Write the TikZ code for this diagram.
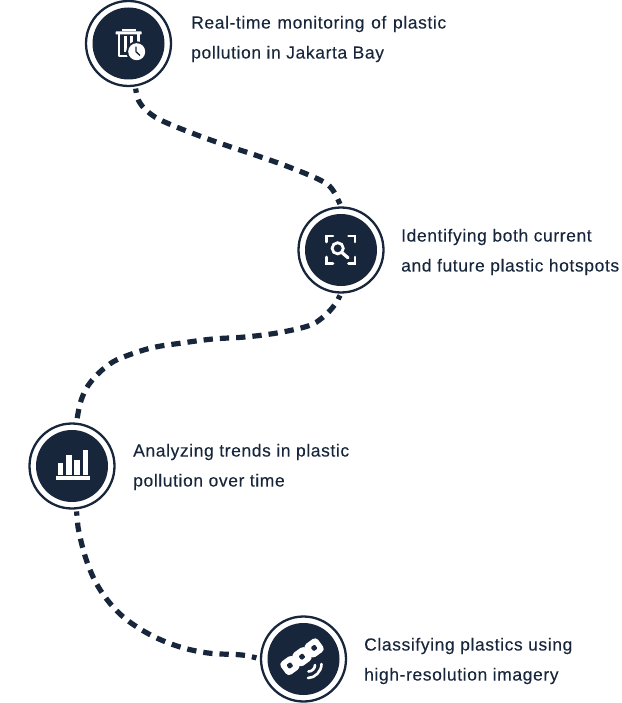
\documentclass[tikz,border=0pt]{standalone}
\usepackage{fontspec}
\setmainfont[LetterSpace=3.4,FakeBold=0.15]{Liberation Sans}
\definecolor{navy}{HTML}{17263B}
\tikzset{
  ring/.style={circle,draw=navy,line width=2.3pt,fill=white,minimum size=85pt,inner sep=0pt},
  disk/.style={circle,fill=navy,minimum size=72pt,inner sep=0pt},
  conn/.style={draw=navy,line width=5.2pt,dash pattern=on 9.3pt off 7pt,dash phase=5pt},
  label/.style={anchor=west,align=left,text=navy,inner sep=0pt,font=\fontsize{17.5}{30}\selectfont},
  iconline/.style={draw=white,line width=2.6pt,fill=none}
}
\begin{document}
\begin{tikzpicture}[x=1pt,y=-1pt]
\useasboundingbox (0,0) rectangle (621,703);
\node[ring] (c1) at (128.5,43.5) {};
\node[ring] (c2) at (341,250) {};
\node[ring] (c3) at (72,466) {};
\node[ring] (c4) at (303.5,659) {};
\node[disk] (d1) at (c1) {};
\node[disk] (d2) at (c2) {};
\node[disk] (d3) at (c3) {};
\node[disk] (d4) at (c4) {};
\draw[conn,shorten <=2pt,shorten >=3pt] plot[smooth,tension=.6] coordinates {(c1.-81) (140,103) (152,115) (167,123) (197,135) (228,146) (258,156) (289,167) (320,180) (332,189) (c2.90)};
\draw[conn,shorten <=2pt,shorten >=3pt] plot[smooth,tension=.6] coordinates {(c2.-90) (333,307) (322,318) (308,326) (277,333) (245,337) (213,339) (182,343) (151,348) (121,358) (107,366) (95,377) (86,389) (80,404) (c3.84)};
\draw[conn,shorten <=2pt,shorten >=5pt] plot[smooth,tension=.6] coordinates {(c3.-84) (78,527) (86,559) (99,588) (120,614) (147,633) (177,646) (208,653) (242,655) (c4.180)};
\fill[white] (122,29) rectangle (136,31.5);
\fill[white,rounded corners=.5pt] (115.7,31.5) rectangle (141.7,34.5);
\draw[iconline,line join=round] (119,34) -- (119,56) -- (133,56);
\fill[white] (124,36.5) rectangle (126.8,52);
\fill[white] (130,36.5) rectangle (133,47);
\draw[iconline] (138.5,34) -- (138.5,42);
\fill[navy] (136.7,51.7) circle[radius=10.5];
\fill[white] (136.7,51.7) circle[radius=8.5];
\draw[navy,line width=1.3pt] (136,46.7) -- (136,51.7) -- (140,55.5);
\draw[iconline,line cap=round] (326.5,242) -- (326.5,236) -- (333,236);
\draw[iconline,line cap=round] (348.5,236) -- (355,236) -- (355,242);
\draw[iconline,line cap=round] (326.5,257) -- (326.5,263.5) -- (333,263.5);
\draw[iconline,line cap=round] (348.5,263.5) -- (355,263.5) -- (355,257);
\draw[iconline,line width=2.8pt] (337.7,248.3) circle[radius=5.6];
\draw[iconline,line width=3.2pt,line cap=round] (342,252.6) -- (348,257.8);
\fill[white] (56,476.3) rectangle (90,479.7);
\fill[white] (57.7,463.3) rectangle (63.3,474.7);
\fill[white] (66,455) rectangle (71.7,474.7);
\fill[white] (74.3,460) rectangle (80,474.7);
\fill[white] (82.7,450) rectangle (88.3,474.7);
\begin{scope}[shift={(302,656.7)},rotate=36]
  \fill[white,rounded corners=4pt] (-23,-8) rectangle (-7,8);
  \fill[white,rounded corners=4pt] (-8,-8) rectangle (8,8);
  \fill[white,rounded corners=4pt] (7,-8) rectangle (23,8);
  \fill[white] (-18,-6) rectangle (18,6);
  \fill[navy,rounded corners=1pt] (-17.5,-2.5) rectangle (-12.5,2.5);
  \fill[navy,rounded corners=1pt] (-2.5,-2.5) rectangle (2.5,2.5);
  \fill[navy,rounded corners=1pt] (12.5,-2.5) rectangle (17.5,2.5);
\end{scope}
\draw[iconline,line cap=round] (321.5,664) .. controls (321.5,671.5) and (315,678) .. (308,678);
\draw[iconline,line cap=round] (315,665) .. controls (315,668.5) and (312,671.5) .. (308.5,671.5);
\node[label] (t1) at (191,39) {\makebox[255pt][s]{Real-time monitoring of plastic}\\pollution in Jakarta Bay};
\node[label] (t2) at (401,252) {Identifying both current\\and future plastic hotspots};
\node[label] (t3) at (133,467) {Analyzing trends in plastic\\pollution over time};
\node[label] (t4) at (364,661) {Classifying plastics using\\high-resolution imagery};
\end{tikzpicture}
\end{document}
